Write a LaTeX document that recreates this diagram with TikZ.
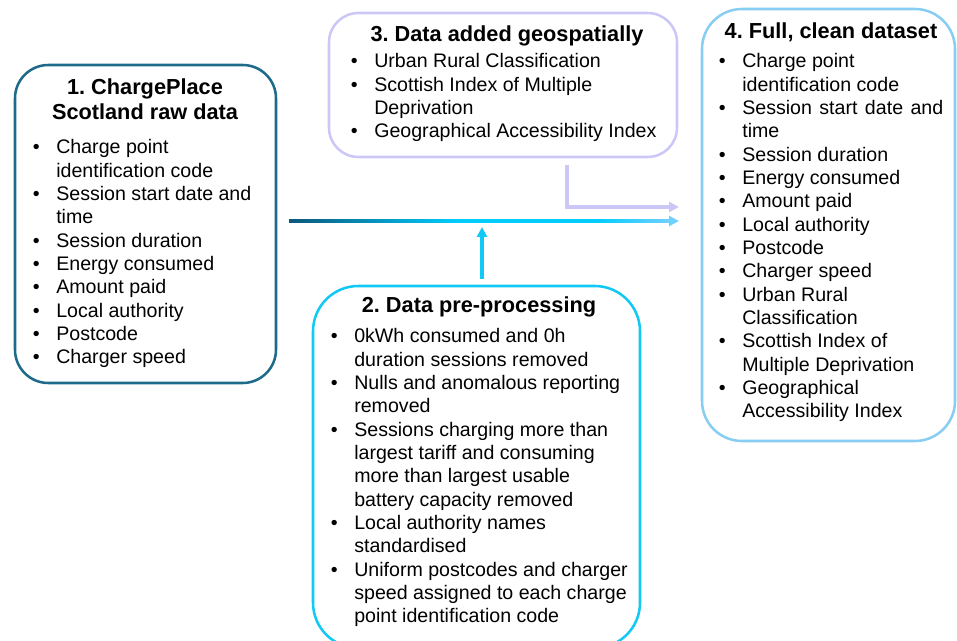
\documentclass[tikz,border=0pt]{standalone}
\usepackage{fontspec}
\setmainfont{Liberation Sans}
\usetikzlibrary{arrows.meta,fit,calc}
\frenchspacing

\definecolor{rawc}{HTML}{1E6A8A}
\definecolor{prec}{HTML}{12C8F4}
\definecolor{geoc}{HTML}{CBC8F7}
\definecolor{fullc}{HTML}{88CDF2}
\definecolor{flowa}{HTML}{0B587A}
\definecolor{flowb}{HTML}{00CCFF}
\definecolor{flowc}{HTML}{70D0FF}

% dark-to-cyan-to-light ramp for the main flow line
\pgfdeclarehorizontalshading{flowramp}{100bp}{color(0bp)=(flowa); color(25bp)=(flowa);
  color(47bp)=(flowb); color(65bp)=(flowb); color(75bp)=(flowc); color(100bp)=(flowc)}

\newlength\bulw
\setlength\bulw{17.5pt}
\newcommand\itm{\makebox[\bulw][l]{\textbullet}}
\newcommand\bodyfont{\fontsize{14.7}{17.5}\selectfont}
\newcommand\headfont{\fontsize{16.3}{18.75}\selectfont\bfseries}

\begin{document}
\begin{tikzpicture}[x=0.75pt,y=-0.75pt,
  panel/.style={draw, line width=1.9pt, inner sep=0pt},
  head/.style={anchor=base, inner sep=0pt, font=\headfont},
  items/.style={anchor=base west, inner sep=0pt, font=\bodyfont},
  flow/.style={line width=2.4pt, -{Triangle[length=7.5pt,width=7.5pt]}}
]
\clip (0,0) rectangle (957,641);

% panels
\node[panel, draw=rawc,  rounded corners=25pt, fit={(15,65) (276,383)}] (b1) {};
\node[panel, draw=geoc,  rounded corners=22pt, fit={(329,13) (677,157)}] (b3) {};
\node[panel, draw=fullc, rounded corners=30pt, fit={(702,9) (955,441)}] (b4) {};
\node[panel, draw=prec,  rounded corners=34pt, fit={(313,286) (640,648)}] (b2) {};

% headings
\node[head] (h1) at (145,95) {\begin{tabular}[t]{@{}c@{}}1. ChargePlace\\Scotland raw data\end{tabular}};
\node[head] (h3) at (507,42) {3. Data added geospatially};
\node[head] (h4) at (831,39) {4. Full, clean dataset};
\node[head] (h2) at (479,313) {2. Data pre-processing};

% bullet lists
\node[items] (l1) at (32.7,154) {\begin{tabular}[t]{@{}l@{}l@{}}
\itm & Charge point\\
     & identification code\\
\itm & Session start date and\\
     & time\\
\itm & Session duration\\
\itm & Energy consumed\\
\itm & Amount paid\\
\itm & Local authority\\
\itm & Postcode\\
\itm & Charger speed
\end{tabular}};

\node[items] (l3) at (350.7,68) {\begin{tabular}[t]{@{}l@{}l@{}}
\itm & Urban Rural Classification\\
\itm & Scottish Index of Multiple\\
     & Deprivation\\
\itm & Geographical Accessibility Index
\end{tabular}};

\node[items] (l4) at (718.7,68) {\begin{tabular}[t]{@{}l@{}l@{}}
\itm & Charge point\\
     & identification code\\
\itm & \makebox[150.75pt][s]{Session start date and}\\
     & time\\
\itm & Session duration\\
\itm & Energy consumed\\
\itm & Amount paid\\
\itm & Local authority\\
\itm & Postcode\\
\itm & Charger speed\\
\itm & Urban Rural\\
     & Classification\\
\itm & Scottish Index of\\
     & Multiple Deprivation\\
\itm & Geographical\\
     & Accessibility Index
\end{tabular}};

\node[items] (l2) at (330.7,343) {\begin{tabular}[t]{@{}l@{}l@{}}
\itm & 0kWh consumed and 0h\\
     & duration sessions removed\\
\itm & Nulls and anomalous reporting\\
     & removed\\
\itm & Sessions charging more than\\
     & largest tariff and consuming\\
     & more than largest usable\\
     & battery capacity removed\\
\itm & Local authority names\\
     & standardised\\
\itm & Uniform postcodes and charger\\
     & speed assigned to each charge\\
     & point identification code
\end{tabular}};

% connector ends
\coordinate (m0) at (289,221);
\coordinate (m1) at (679,221);
\coordinate (g0) at (567,165);
\coordinate (g1) at (679,207);
\coordinate (p0) at (482,279);
\coordinate (p1) at (482,227);

% main flow: raw data to full dataset, colour running dark to light
\shade[shading=flowramp]
  ($(m0)+(0,-1.6)$) rectangle ($(m1)+(-8,1.6)$);
\draw[flow, draw=flowc] ($(m1)+(-10,0)$) -- (m1);

% geospatial additions joining the flow
\draw[flow, draw=geoc] (g0) |- (g1);

% pre-processing feeding into the flow
\draw[flow, draw=prec] (p0) -- (p1);
\end{tikzpicture}
\end{document}
